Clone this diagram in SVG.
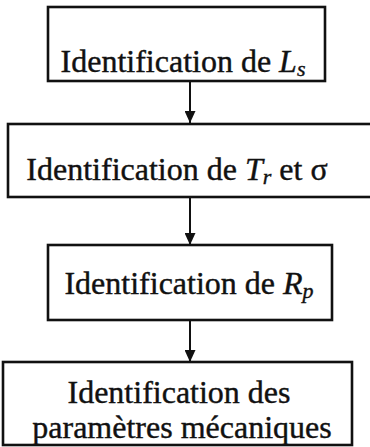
<svg xmlns="http://www.w3.org/2000/svg" width="370" height="447" viewBox="0 0 370 447">
  <style>
    .box { fill: #ffffff; stroke: #111111; stroke-width: 2.6; }
    .lbl { font-family: "Liberation Serif", "DejaVu Serif", "Times New Roman", serif; font-size: 32px; fill: #111111; stroke: #111111; stroke-width: 0.4; text-anchor: middle; }
    .it { font-style: italic; }
    .sub { font-style: italic; font-size: 22px; }
    .link { stroke: #111111; stroke-width: 2; fill: none; marker-end: url(#head); }
  </style>
  <defs>
    <marker id="head" viewBox="0 0 12 11" refX="12" refY="5.5" markerWidth="12" markerHeight="11" markerUnits="userSpaceOnUse" orient="auto">
      <path d="M0,0 L12,5.5 L0,11 Z" fill="#111111"/>
    </marker>
  </defs>

  <rect width="370" height="447" fill="#ffffff"/>

  <g id="connectors">
    <line class="link" x1="190" y1="82" x2="190" y2="123"/>
    <line class="link" x1="190" y1="198" x2="190" y2="245"/>
    <line class="link" x1="190" y1="321" x2="190" y2="362"/>
  </g>

  <g id="node-ls">
    <rect class="box" x="48" y="7" width="277" height="74"/>
    <text class="lbl" x="183" y="72">Identification de <tspan class="it">L</tspan><tspan class="sub" dy="4">s</tspan></text>
  </g>

  <g id="node-tr-sigma">
    <rect class="box" x="8" y="124" width="372" height="73"/>
    <text class="lbl" x="177" y="180">Identification de <tspan class="it">T</tspan><tspan class="sub" dy="4">r</tspan><tspan dy="-4"> et σ</tspan></text>
  </g>

  <g id="node-rp">
    <rect class="box" x="48" y="245" width="284" height="75"/>
    <text class="lbl" x="189" y="294">Identification de <tspan class="it">R</tspan><tspan class="sub" dy="4">p</tspan></text>
  </g>

  <g id="node-mecaniques">
    <rect class="box" x="3" y="362" width="349" height="83" fill="#f6f6f6"/>
    <text class="lbl" x="179" y="403">Identification des</text>
    <text class="lbl" x="182" y="438">paramètres mécaniques</text>
  </g>
</svg>
